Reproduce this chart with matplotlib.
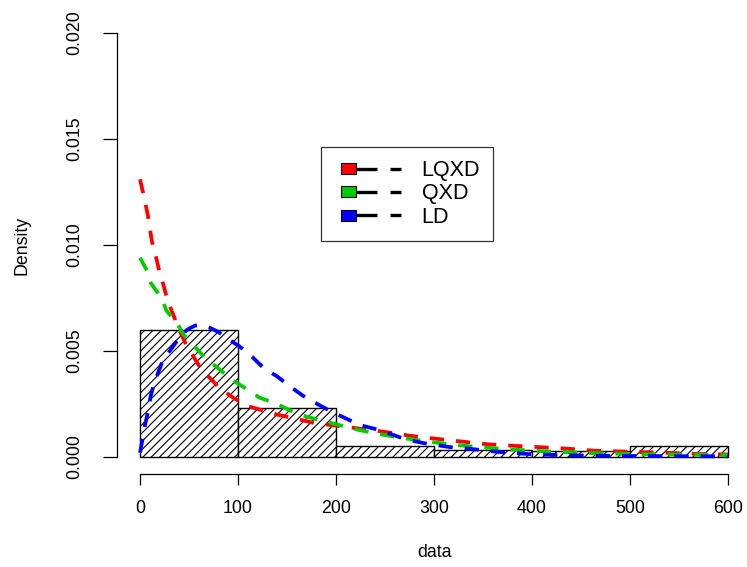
import matplotlib
matplotlib.use("Agg")
import matplotlib.pyplot as plt
from matplotlib.patches import Patch, Rectangle
from matplotlib.lines import Line2D
from matplotlib.legend_handler import HandlerBase

# Histogram of the observed data (density scale)
bin_edges = [0, 100, 200, 300, 400, 500, 600]
bin_density = [0.0060, 0.0023, 0.00052, 0.00032, 0.00030, 0.00053]

# Fitted density curves
lqxd_x = [0, 4, 8, 12, 16, 20, 24, 28, 34, 40, 46, 55, 63, 72, 80, 95, 110, 125,
          140, 160, 178, 196, 214, 230, 248, 276, 320, 355, 393, 428, 464, 500,
          537, 573, 600]
lqxd_y = [0.0131, 0.0123, 0.0114, 0.0102, 0.0095, 0.0087, 0.0081, 0.0074, 0.0067,
          0.0060, 0.0054, 0.0047, 0.0041, 0.0037, 0.0033, 0.0028, 0.0024, 0.0022,
          0.0020, 0.0018, 0.0016, 0.0015, 0.0014, 0.0013, 0.0012, 0.0010, 0.00077,
          0.0006, 0.0005, 0.00042, 0.0003, 0.00025, 0.0002, 0.00014, 0.00012]

qxd_x = [0, 7, 11, 22, 27, 38, 44, 58, 66, 82, 92, 109, 122, 140, 153, 170, 187,
         204, 221, 242, 262, 283, 299, 316, 334, 350, 367, 385, 418, 459, 493, 534,
         600]
qxd_y = [0.0094, 0.0088, 0.0082, 0.0075, 0.0069, 0.0063, 0.0058, 0.0051, 0.0047,
         0.0041, 0.0037, 0.0032, 0.0028, 0.0025, 0.0022, 0.0019, 0.0017, 0.0015,
         0.0013, 0.0011, 0.00094, 0.0008, 0.0007, 0.0006, 0.00052, 0.00045, 0.0004,
         0.00034, 0.00026, 0.00019, 0.00015, 0.00012, 0.00009]

ld_x = [0, 2, 5, 8, 11, 14, 17, 22, 27, 32, 41, 48, 56, 64, 71, 80, 89, 102, 115,
        126, 140, 151, 166, 181, 197, 211, 225, 242, 255, 270, 290, 316, 334, 352,
        370, 388, 403, 440, 500, 600]
ld_y = [0.0002, 0.0007, 0.0015, 0.0021, 0.0029, 0.0034, 0.0038, 0.0044, 0.0048,
        0.0051, 0.0057, 0.0060, 0.0062, 0.0062, 0.0061, 0.0059, 0.0056, 0.0052,
        0.0047, 0.0042, 0.0038, 0.0034, 0.0029, 0.0025, 0.0021, 0.0018, 0.0015,
        0.0013, 0.0011, 0.00085, 0.00065, 0.00047, 0.0004, 0.00031, 0.00022,
        0.00017, 0.00012, 0.00008, 0.00005, 0.00003]

series_labels = ["LQXD", "QXD", "LD"]
series_colors = ["#ff0000", "#00cd00", "#0000ff"]

x_ticks = [0, 100, 200, 300, 400, 500, 600]
y_ticks = [0.000, 0.005, 0.010, 0.015, 0.020]
y_tick_labels = ["0.000", "0.005", "0.010", "0.015", "0.020"]

plt.rcParams["font.family"] = ["Liberation Sans", "DejaVu Sans"]
FS = 12.8
LEG_FS = 15.5

W, H = 747, 567
fig = plt.figure(figsize=(W / 100, H / 100), dpi=100)
ax = fig.add_axes([116.5 / W, 93 / H, 635 / W, 458 / H])
ax.set_xlim(-24, 624)
ax.set_ylim(-0.0008, 0.0208)

# histogram bars
widths = [b - a for a, b in zip(bin_edges[:-1], bin_edges[1:])]
plt.rcParams["hatch.linewidth"] = 0.8
ax.bar(bin_edges[:-1], bin_density, width=widths, align="edge",
       facecolor="white", edgecolor="black", hatch="////", linewidth=1.0, zorder=1)

# density curves
for xs, ys, c in zip([lqxd_x, qxd_x, ld_x], [lqxd_y, qxd_y, ld_y], series_colors):
    ax.plot(xs, ys, color=c, lw=2.7, dashes=(3.8, 3.2), dash_capstyle="butt",
            zorder=3, clip_on=False)

# R-style detached axes
for side in ("top", "right"):
    ax.spines[side].set_visible(False)
ax.spines["left"].set_bounds(0, 0.02)
ax.spines["bottom"].set_bounds(0, 600)
for side in ("left", "bottom"):
    ax.spines[side].set_linewidth(0.9)

ax.set_xticks(x_ticks)
ax.set_xticklabels([str(v) for v in x_ticks], fontsize=FS)
ax.set_yticks(y_ticks)
ax.set_yticklabels(y_tick_labels, fontsize=FS, rotation=90, va="center")
ax.tick_params(axis="x", length=8, width=0.9, pad=11)
ax.tick_params(axis="y", length=10, width=0.9, pad=14)

ax.set_xlabel("data", fontsize=FS, labelpad=19)
ax.set_ylabel("Density", fontsize=FS, labelpad=26)

KEY_W = 43.2  # drawn key width in points


class SwatchDashHandler(HandlerBase):
    """Coloured square followed by a black dashed segment."""

    def create_artists(self, legend, orig_handle, xdescent, ydescent,
                       width, height, fontsize, trans):
        x0 = -xdescent + (width - KEY_W)
        y = height / 2 - ydescent
        sw, sh = KEY_W * 0.25, 7.9
        seg1 = Line2D([x0, x0 + KEY_W * 0.6], [y, y], color="black", lw=2.4,
                      solid_capstyle="butt", transform=trans)
        seg2 = Line2D([x0 + KEY_W * 0.83, x0 + KEY_W], [y, y], color="black",
                      lw=2.4, solid_capstyle="butt", transform=trans)
        rect = Rectangle((x0, y - sh / 2), sw, sh,
                         facecolor=orig_handle.get_facecolor(),
                         edgecolor="black", lw=0.8, transform=trans)
        return [seg1, seg2, rect]


handles = [Patch(facecolor=c, label=l) for c, l in zip(series_colors, series_labels)]
leg = fig.legend(handles=handles, loc="upper left",
                 bbox_to_anchor=(321 / W, 1 - 147 / H),
                 bbox_transform=fig.transFigure, borderaxespad=0,
                 fontsize=LEG_FS, handlelength=3.08, handletextpad=0.97,
                 labelspacing=0.1, borderpad=0.62, fancybox=False,
                 handler_map={Patch: SwatchDashHandler()})
leg.get_frame().set_edgecolor("black")
leg.get_frame().set_linewidth(0.9)

fig.savefig("out.png", dpi=100)
